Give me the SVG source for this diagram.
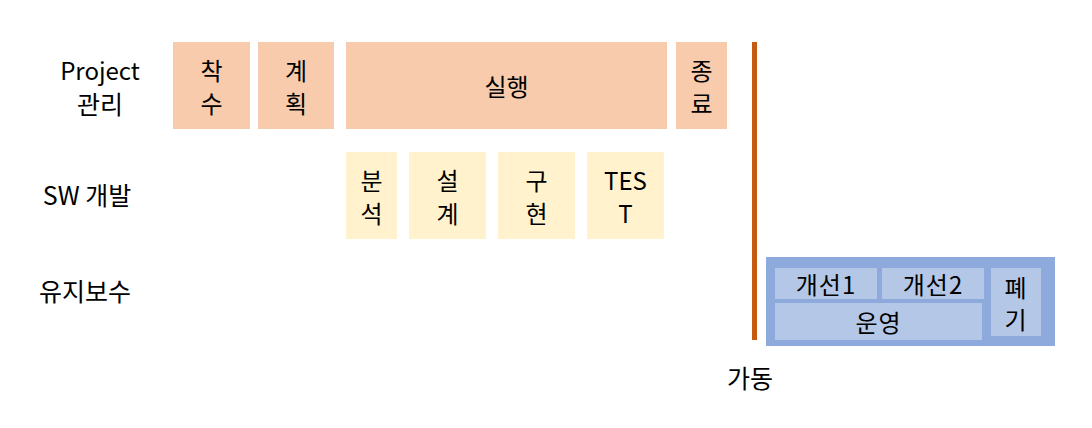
<svg xmlns="http://www.w3.org/2000/svg" width="1092" height="428" viewBox="0 0 1092 428">
<style>
text{font-family:"Noto Sans CJK KR","Noto Sans",sans-serif;font-size:24px;fill:#000;text-anchor:middle;dominant-baseline:central}
.pm{fill:#F8CBAD}
.sw{fill:#FFF2CC}
.mo{fill:#8EA9DB}
.mi{fill:#B4C7E7}
.s{font-size:24px;letter-spacing:1px}
.l{font-size:25px}
</style>
<rect width="1092" height="428" fill="#fff"/>
<g id="labels">
<text x="100" y="69">Project</text>
<text class="l" x="100" y="103">관리</text>
<text class="l" x="87" y="194">SW 개발</text>
<text class="l" x="85" y="290">유지보수</text>
</g>
<g id="n-chaksu"><rect class="pm" x="173" y="42" width="77" height="87"/><text x="211.5" y="69">착</text><text x="211.5" y="102">수</text></g>
<g id="n-gyehoek"><rect class="pm" x="258" y="42" width="76" height="87"/><text x="296" y="69">계</text><text x="296" y="102">획</text></g>
<g id="n-silhaeng"><rect class="pm" x="346" y="42" width="321" height="87"/><text x="506.5" y="85">실행</text></g>
<g id="n-jongryo"><rect class="pm" x="676" y="42" width="51" height="87"/><text x="701.5" y="69">종</text><text x="701.5" y="102">료</text></g>
<g id="n-bunseok"><rect class="sw" x="346" y="152" width="51" height="87"/><text x="371.5" y="179">분</text><text x="371.5" y="212">석</text></g>
<g id="n-seolgye"><rect class="sw" x="409" y="152" width="77" height="87"/><text x="447.5" y="179">설</text><text x="447.5" y="212">계</text></g>
<g id="n-guhyeon"><rect class="sw" x="498" y="152" width="77" height="87"/><text x="536.5" y="179">구</text><text x="536.5" y="212">현</text></g>
<g id="n-test"><rect class="sw" x="587" y="152" width="77" height="87"/><text x="625.5" y="179">TES</text><text x="625.5" y="212">T</text></g>
<g id="connectors">
<rect x="752" y="42" width="5" height="298" fill="#C55A11"/>
</g>
<g id="n-gadong"><text class="l" x="750" y="377">가동</text></g>
<g id="n-maint">
<rect class="mo" x="766" y="257" width="289" height="89"/>
<rect class="mi" x="775" y="268" width="102" height="31"/><text class="s" x="826" y="283">개선1</text>
<rect class="mi" x="882" y="268" width="102" height="31"/><text class="s" x="933" y="283">개선2</text>
<rect class="mi" x="775" y="303" width="207" height="37"/><text class="s" x="878.5" y="321">운영</text>
<rect class="mi" x="991" y="268" width="50" height="68"/><text class="s" x="1016" y="286">폐</text><text class="s" x="1016" y="318">기</text>
</g>
</svg>
